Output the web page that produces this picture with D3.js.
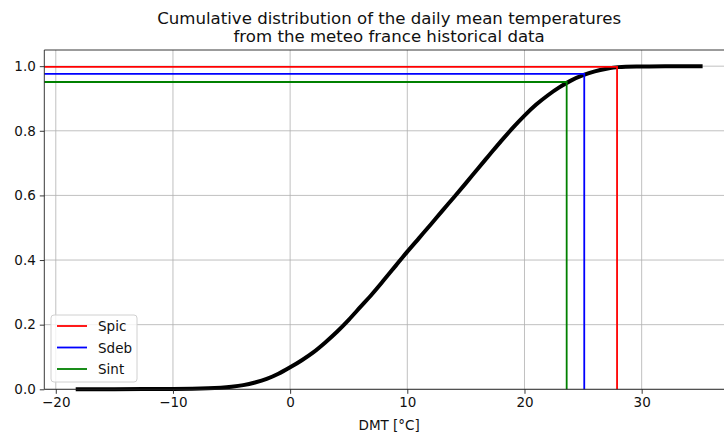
<!DOCTYPE html>
<html>
<head>
<meta charset="utf-8">
<script src="https://cdn.jsdelivr.net/npm/d3@7"></script>
<style>
  body { margin: 0; background: #fff; }
  svg text { font-family: "DejaVu Sans", sans-serif; fill: #111; }
</style>
</head>
<body>
<svg id="chart" width="724" height="434"></svg>
<script>
const temps = [-18.3, -15, -10, -7, -5, -4, -3, -2, -1, 0, 1, 2, 3, 4, 5, 6, 7, 8, 9, 10,
               11, 12, 13, 14, 15, 16, 17, 18, 19, 20, 21, 22, 23, 24, 25, 26, 27, 28, 30, 32, 35.2];
const cdf = [0, 0.0005, 0.001, 0.003, 0.008, 0.013, 0.021, 0.032, 0.048, 0.068, 0.09, 0.115, 0.145, 0.178, 0.215, 0.255, 0.295, 0.338, 0.382, 0.426,
             0.468, 0.51, 0.553, 0.595, 0.638, 0.682, 0.725, 0.768, 0.809, 0.847, 0.881, 0.91, 0.935, 0.956, 0.972, 0.984, 0.992, 0.997, 0.999, 1.0, 1.0];

// Thresholds
const thrNames = ["Spic", "Sdeb", "Sint"];
const thrTemps = [27.9, 25.1, 23.6];
const thrProbs = [0.998, 0.976, 0.951];
const thrColors = ["red", "blue", "green"];

const xTicks = [-20, -10, 0, 10, 20, 30];
const yTicks = [0, 0.2, 0.4, 0.6, 0.8, 1.0];

const svg = d3.select("#chart");
const margin = { left: 44.3, right: 734, top: 50, bottom: 389.3 };

const x = d3.scaleLinear().domain([-20.98, 37.88]).range([margin.left, margin.right]);
const y = d3.scaleLinear().domain([0, 1.05]).range([margin.bottom, margin.top]);

// grid
svg.append("g").selectAll("line").data(xTicks).join("line")
    .attr("x1", d => x(d)).attr("x2", d => x(d))
    .attr("y1", margin.top).attr("y2", margin.bottom)
    .attr("stroke", "#b0b0b0").attr("stroke-width", 0.8);
svg.append("g").selectAll("line").data(yTicks).join("line")
    .attr("x1", margin.left).attr("x2", margin.right)
    .attr("y1", d => y(d)).attr("y2", d => y(d))
    .attr("stroke", "#b0b0b0").attr("stroke-width", 0.8);

const plot = svg.append("g");
const pts = temps.map((t, i) => [t, cdf[i]]);

// the CDF curve
plot.append("path")
    .datum(pts)
    .attr("fill", "none")
    .attr("stroke", "black")
    .attr("stroke-width", 4)
    .attr("d", d3.line().x(d => x(d[0])).y(d => y(d[1])).curve(d3.curveMonotoneX));

// threshold lines
thrNames.forEach((n, i) => {
  plot.append("path")
      .attr("fill", "none")
      .attr("stroke", thrColors[i])
      .attr("stroke-width", 1.8)
      .attr("d", `M${x.range()[0]},${y(thrProbs[i])}H${x(thrTemps[i])}V${y(0)}`);
});

// axes
const fmtX = d => (d < 0 ? "\u2212" + Math.abs(d) : d);
const xAxis = svg.append("g")
    .attr("transform", `translate(0,${margin.bottom})`)
    .call(d3.axisBottom(x).tickValues(xTicks).tickFormat(fmtX).tickSize(4.5).tickPadding(4));
const yAxis = svg.append("g")
    .attr("transform", `translate(${margin.left},0)`)
    .call(d3.axisLeft(y).tickValues(yTicks).tickFormat(d3.format(".1f")).tickSize(4.5).tickPadding(4));

[xAxis, yAxis].forEach(a => {
  a.select(".domain").remove();
  a.selectAll("line").attr("stroke", "#222").attr("stroke-width", 0.9);
  a.selectAll("text").style("font-size", "13.5px").attr("fill", "#111");
});

// spines
svg.append("path")
    .attr("d", `M${margin.right},${margin.top}H${margin.left}V${margin.bottom}H${margin.right}`)
    .attr("fill", "none").attr("stroke", "#222").attr("stroke-width", 0.9);

// x label
svg.append("text")
    .attr("x", (margin.left + margin.right) / 2)
    .attr("y", 430)
    .attr("text-anchor", "middle")
    .style("font-size", "13.5px")
    .text("DMT [°C]");

// title
const title = ["Cumulative distribution of the daily mean temperatures",
               "from the meteo france historical data"];
svg.append("g").selectAll("text").data(title).join("text")
    .attr("x", (margin.left + margin.right) / 2)
    .attr("y", (d, i) => 24 + i * 17.5)
    .attr("text-anchor", "middle")
    .style("font-size", "16.6px")
    .text(d => d);

// legend
const legend = svg.append("g").attr("transform", "translate(51,315)");
legend.append("rect")
    .attr("width", 86).attr("height", 67).attr("rx", 3)
    .attr("fill", "white").attr("fill-opacity", 0.8)
    .attr("stroke", "#d0d0d0").attr("stroke-width", 1);
thrNames.forEach((n, i) => {
  const g = legend.append("g").attr("transform", `translate(0,${11 + i * 21.5})`);
  g.append("line").attr("x1", 6).attr("x2", 36).attr("stroke", thrColors[i]).attr("stroke-width", 1.8);
  g.append("text").attr("x", 47).attr("y", 5).style("font-size", "13.5px").text(n);
});
</script>
</body>
</html>
